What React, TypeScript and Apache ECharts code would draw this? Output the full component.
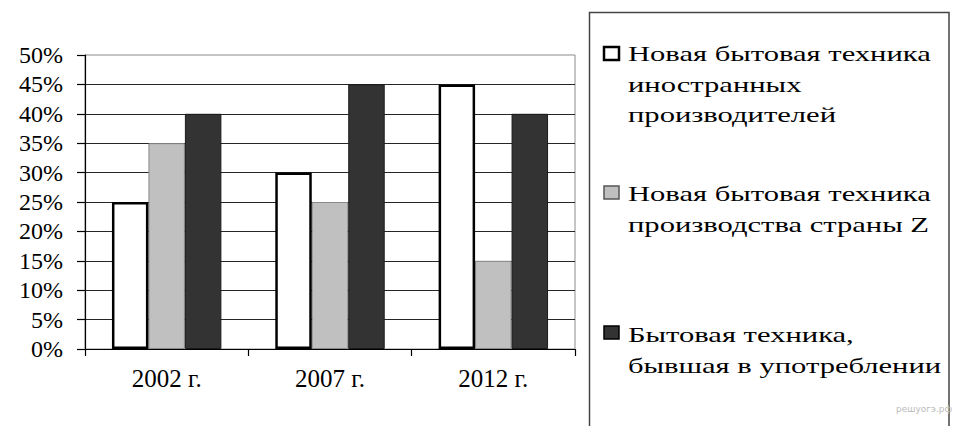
import React, { useEffect, useRef } from "react";
import * as echarts from "echarts";

const categories = ["2002 г.", "2007 г.", "2012 г."];
const seriesNames = [
  "Новая бытовая техника иностранных производителей",
  "Новая бытовая техника производства страны Z",
  "Бытовая техника, бывшая в употреблении",
];
const legendLines = [
  ["Новая бытовая техника", "иностранных", "производителей"],
  ["Новая бытовая техника", "производства страны Z"],
  ["Бытовая техника,", "бывшая в употреблении"],
];
const foreignNew = [25, 30, 45];
const domesticNew = [35, 25, 15];
const usedGoods = [40, 45, 40];
const yMin = 0;
const yMax = 50;
const yStep = 5;

const FONT = "Liberation Serif";
const fills = ["#ffffff", "#c0c0c0", "#333333"];
const borders = ["#000000", "#8a8a8a", "#1a1a1a"];
const borderWidths = [2.5, 1, 1];

export default function App() {
  const ref = useRef<HTMLDivElement>(null);
  useEffect(() => {
    if (!ref.current) return;
    const chart = echarts.init(ref.current, null, { renderer: "svg" });
    const values = [foreignNew, domesticNew, usedGoods];
    const legendTops = [43, 183, 324];
    const lineStep = 30.5;
    const markerTops = [47, 186, 326];
    const graphic: any[] = [
      {
        type: "rect",
        shape: { x: 589.5, y: 12.5, width: 359.5, height: 440 },
        style: { fill: "#fff", stroke: "#444", lineWidth: 1.5 },
      },
    ];
    legendLines.forEach((lines, i) => {
      graphic.push({
        type: "rect",
        shape: { x: 604, y: markerTops[i], width: 15, height: 13 },
        style: { fill: fills[i], stroke: i === 1 ? "#555" : "#000", lineWidth: i === 0 ? 2.5 : 1.5 },
      });
      lines.forEach((line, j) => {
        graphic.push({
          type: "text",
          x: 628,
          y: legendTops[i] + j * lineStep,
          scaleX: 1.39,
          style: {
            text: line,
            fill: "#000",
            fontFamily: FONT,
            fontSize: 22,
          },
        });
      });
    });
    graphic.push({
      type: "text",
      x: 896,
      y: 404,
      style: {
        text: "решуогэ.рф",
        fill: "#bbbbbb",
        fontFamily: "DejaVu Sans",
        fontSize: 9,
      },
    });

    chart.setOption({
      animation: false,
      backgroundColor: "#ffffff",
      grid: {
        left: 85,
        right: 382,
        top: 55,
        bottom: 77,
        show: true,
        borderColor: "#8c8c8c",
        borderWidth: 1,
        backgroundColor: "transparent",
      },
      xAxis: {
        type: "category",
        data: categories,
        axisLine: { lineStyle: { color: "#000", width: 1.2 } },
        axisTick: { show: true, length: 7, interval: 0, alignWithLabel: false, lineStyle: { color: "#000", width: 1.2 } },
        axisLabel: { color: "#000", fontFamily: FONT, fontSize: 25, margin: 17 },
        splitLine: { show: false },
      },
      yAxis: {
        type: "value",
        min: yMin,
        max: yMax,
        interval: yStep,
        axisLine: { show: true, lineStyle: { color: "#000", width: 1.2 } },
        axisTick: { show: true, length: 8, inside: false, lineStyle: { color: "#000", width: 1.2 } },
        axisLabel: { color: "#000", fontFamily: FONT, fontSize: 24, margin: 22, formatter: "{value}%" },
        splitLine: { show: true, showMaxLine: false, lineStyle: { color: "#262626", width: 1 } },
      },
      legend: { show: false },
      series: values.map((arr, i) => ({
        name: seriesNames[i],
        type: "bar",
        data: arr,
        barGap: "0%",
        barCategoryGap: "33%",
        itemStyle: { color: fills[i], borderColor: borders[i], borderWidth: borderWidths[i] },
        z: 2 + (i === 0 ? 1 : 0),
      })),
      graphic,
    });
    return () => chart.dispose();
  }, []);
  return (
    <div
      ref={ref}
      style={{ position: "fixed", left: 0, top: 0, width: 957, height: 426, background: "#fff" }}
    />
  );
}
